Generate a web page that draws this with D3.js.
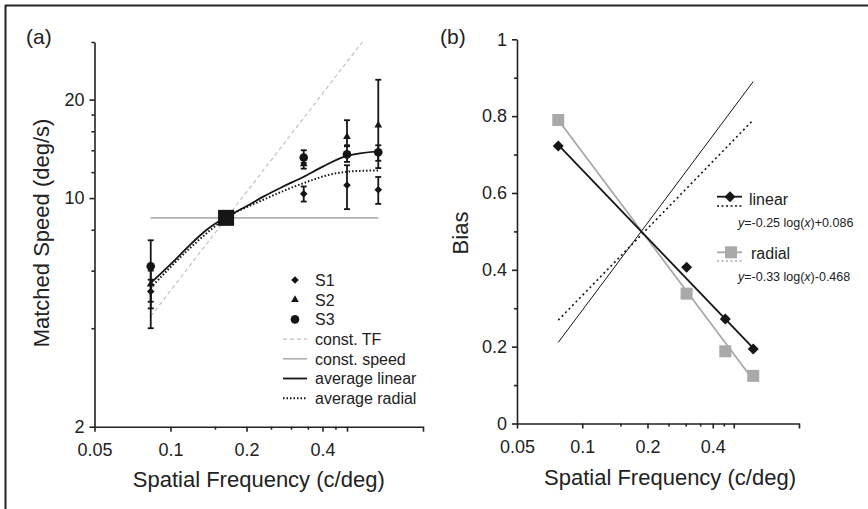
<!DOCTYPE html>
<html>
<head>
<meta charset="utf-8">
<script src="https://cdn.jsdelivr.net/npm/d3@7"></script>
<style>
  body { margin: 0; background: #fff; }
  text { font-family: "Liberation Sans", Arial, sans-serif; }
</style>
</head>
<body>
<div id="viz"></div>
<script>
let w = 868;
let h = 509;

// ---- panel (a) data: matched speed vs spatial frequency ----
let sfA = [0.0835, 0.337, 0.5, 0.665];
let s1Speed = [5.18, 10.3, 10.95, 10.6];
let s1Lo = [4.82, 9.76, 9.25, 9.6];
let s1Hi = [5.63, 10.85, 12.6, 11.6];
let s2Speed = [5.45, 12.7, 15.4, 16.7];
let s2Lo = [4.0, 12.3, 14.5, 12.35];
let s2Hi = [6.0, 13.1, 17.3, 23.0];
let s3Speed = [6.19, 13.3, 13.6, 13.8];
let s3Lo = [4.6, 12.8, 12.9, 13.0];
let s3Hi = [7.43, 14.0, 14.4, 14.5];
let refSF = 0.166;
let refSpeed = 8.7;
let constSpeedSF = [0.0835, 0.665];
let constSpeedVal = [8.7, 8.7];
let constTfSF = [0.0835, 0.575];
let constTfVal = [4.35, 30];
let avgLinSF = [0.0835, 0.1026, 0.1194, 0.1391, 0.1659, 0.1942, 0.2331, 0.2796, 0.3356, 0.4027, 0.4987, 0.665];
let avgLinVal = [5.5, 6.39, 7.19, 8.0, 8.75, 9.32, 10.1, 10.85, 11.6, 12.5, 13.45, 13.9];
let avgRadSF = [0.0835, 0.1194, 0.1659, 0.2331, 0.3356, 0.429, 0.514, 0.665];
let avgRadVal = [5.32, 7.03, 8.68, 9.88, 11.1, 11.8, 12.06, 12.15];

let xTicksMajor = [0.05, 0.1, 0.2, 0.4, 0.5, 1];
let xTicksLabeled = [0.05, 0.1, 0.2, 0.4];
let xTicksMinor = [0.15, 0.25, 0.3, 0.35, 0.45];
let yTicksA = [2, 10, 20];
let yTicksAMinor = [4, 6, 8, 12, 14, 16, 18, 30];
let legendA = ["S1", "S2", "S3", "const. TF", "const. speed", "average linear", "average radial"];

// ---- panel (b) data: bias vs spatial frequency ----
let sfB = [0.0775, 0.303, 0.457, 0.615];
let biasLinear = [0.722, 0.407, 0.272, 0.194];
let biasRadial = [0.79, 0.338, 0.188, 0.124];
let fitSF = [0.0775, 0.615];
let fitLinear = [0.725, 0.196];
let fitRadial = [0.79, 0.113];
let mirrorLinear = [0.269, 0.79];
let mirrorRadial = [0.211, 0.89];
let yTicksB = [0, 0.2, 0.4, 0.6, 0.8, 1];
let yTicksBMinor = [0.1, 0.3, 0.5, 0.7, 0.9];

let black = "#151515";
let gray = "#a9a9a9";

let svg = d3.select("#viz").append("svg")
  .attr("width", w)
  .attr("height", h);

// frame
svg.append("line").attr("x1", 5).attr("x2", w).attr("y1", 5.5).attr("y2", 5.5)
  .attr("stroke", "#222").attr("stroke-width", 2);
svg.append("line").attr("x1", 5.5).attr("x2", 5.5).attr("y1", 5).attr("y2", h)
  .attr("stroke", "#222").attr("stroke-width", 2);

function styleAxis(g){
  g.selectAll("path, line").attr("stroke", "#222").attr("stroke-width", 1.6);
  g.selectAll("text").attr("fill", "#222").style("font-size", "18px")
    .style("font-family", "'Liberation Sans', Arial, sans-serif");
}

function labelFmt(d){
  return xTicksLabeled.includes(d) ? String(d) : "";
}

// ================= panel (a) =================
let xA = d3.scaleLog().domain([0.05, 1]).range([94.5, 423]);
let yA = d3.scaleLog().domain([2, 30]).range([426.7, 42]);

let xAxisA = svg.append("g").attr("transform", "translate(0," + yA(2) + ")")
  .call(d3.axisBottom(xA).tickValues(xTicksMajor).tickFormat(labelFmt).tickSize(5).tickSizeOuter(0).tickPadding(12));
styleAxis(xAxisA);
let xAxisAMinor = svg.append("g").attr("transform", "translate(0," + yA(2) + ")")
  .call(d3.axisBottom(xA).tickValues(xTicksMinor).tickFormat("").tickSize(3).tickSizeOuter(0));
xAxisAMinor.select(".domain").remove();
styleAxis(xAxisAMinor);

let yAxisA = svg.append("g").attr("transform", "translate(" + xA(0.05) + ",0)")
  .call(d3.axisLeft(yA).tickValues(yTicksA).tickFormat(d3.format("d")).tickSize(5).tickSizeOuter(0).tickPadding(5));
styleAxis(yAxisA);
let yAxisAMinor = svg.append("g").attr("transform", "translate(" + xA(0.05) + ",0)")
  .call(d3.axisLeft(yA).tickValues(yTicksAMinor).tickFormat("").tickSize(3).tickSizeOuter(0));
yAxisAMinor.select(".domain").remove();
styleAxis(yAxisAMinor);

svg.append("text").attr("x", 26).attr("y", 44).style("font-size", "21px").attr("fill", "#222").text("(a)");
svg.append("text").attr("x", (xA(0.05) + xA(1)) / 2).attr("y", 487)
  .attr("text-anchor", "middle").style("font-size", "22px").attr("fill", "#222")
  .text("Spatial Frequency (c/deg)");
svg.append("text").attr("transform", "rotate(-90)").attr("x", -233).attr("y", 49)
  .attr("text-anchor", "middle").style("font-size", "22px").attr("fill", "#222")
  .text("Matched Speed (deg/s)");

let lineA = d3.line().x(d => xA(d[0])).y(d => yA(d[1]));
let curveA = d3.line().x(d => xA(d[0])).y(d => yA(d[1])).curve(d3.curveMonotoneX);

svg.append("path").attr("d", lineA(d3.zip(constTfSF, constTfVal)))
  .attr("fill", "none").attr("stroke", "#bdbdbd").attr("stroke-width", 1.1).attr("stroke-dasharray", "4,3");
svg.append("path").attr("d", lineA(d3.zip(constSpeedSF, constSpeedVal)))
  .attr("fill", "none").attr("stroke", "#b0b0b0").attr("stroke-width", 1.6);
svg.append("path").attr("d", curveA(d3.zip(avgRadSF, avgRadVal)))
  .attr("fill", "none").attr("stroke", black).attr("stroke-width", 2).attr("stroke-dasharray", "1.5,2");
svg.append("path").attr("d", curveA(d3.zip(avgLinSF, avgLinVal)))
  .attr("fill", "none").attr("stroke", black).attr("stroke-width", 1.8);

// error bars
let subjects = [
  {val: s1Speed, lo: s1Lo, hi: s1Hi, shape: "diamond"},
  {val: s2Speed, lo: s2Lo, hi: s2Hi, shape: "triangle"},
  {val: s3Speed, lo: s3Lo, hi: s3Hi, shape: "circle"}
];
let errGroup = svg.append("g").attr("stroke", black).attr("stroke-width", 1.8);
subjects.forEach(s => {
  sfA.forEach((sf, i) => {
    let cx = xA(sf);
    errGroup.append("line").attr("x1", cx).attr("x2", cx).attr("y1", yA(s.lo[i])).attr("y2", yA(s.hi[i]));
    errGroup.append("line").attr("x1", cx - 3).attr("x2", cx + 3).attr("y1", yA(s.lo[i])).attr("y2", yA(s.lo[i]));
    errGroup.append("line").attr("x1", cx - 3).attr("x2", cx + 3).attr("y1", yA(s.hi[i])).attr("y2", yA(s.hi[i]));
  });
});

function diamondPath(r){
  return "M0," + (-r) + "L" + r + ",0L0," + r + "L" + (-r) + ",0Z";
}
function markerPath(shape){
  if (shape == "diamond") return diamondPath(3.8);
  if (shape == "triangle") return d3.symbol(d3.symbolTriangle, 26)();
  return d3.symbol(d3.symbolCircle, 58)();
}

subjects.forEach(s => {
  svg.append("g").selectAll("path").data(sfA).enter()
    .append("path")
      .attr("d", markerPath(s.shape))
      .attr("transform", (d, i) => "translate(" + xA(d) + "," + yA(s.val[i]) + ")")
      .attr("fill", black);
});

svg.append("rect")
  .attr("x", xA(refSF) - 8).attr("y", yA(refSpeed) - 8)
  .attr("width", 16).attr("height", 16).attr("fill", black);

// legend (a)
let legA = svg.append("g").attr("transform", "translate(283,280)");
legendA.forEach((label, i) => {
  let ly = i * 19.7;
  let row = legA.append("g").attr("transform", "translate(0," + ly + ")");
  if (i < 3) {
    row.append("path").attr("d", markerPath(subjects[i].shape))
      .attr("transform", "translate(12,0)").attr("fill", black);
  } else if (i == 3) {
    row.append("line").attr("x1", 0).attr("x2", 24).attr("stroke", "#bdbdbd").attr("stroke-width", 1.1).attr("stroke-dasharray", "4,3");
  } else if (i == 4) {
    row.append("line").attr("x1", 0).attr("x2", 24).attr("stroke", "#b0b0b0").attr("stroke-width", 1.6);
  } else if (i == 5) {
    row.append("line").attr("x1", 0).attr("x2", 24).attr("stroke", black).attr("stroke-width", 1.8);
  } else {
    row.append("line").attr("x1", 0).attr("x2", 24).attr("stroke", black).attr("stroke-width", 2).attr("stroke-dasharray", "1.5,2");
  }
  row.append("text").attr("x", 32).attr("y", 5.8).style("font-size", "16px").attr("fill", "#222").text(label);
});

// ================= panel (b) =================
let xB = d3.scaleLog().domain([0.05, 1]).range([517, 799]);
let yB = d3.scaleLinear().domain([0, 1]).range([423.5, 39.3]);

let xAxisB = svg.append("g").attr("transform", "translate(0," + yB(0) + ")")
  .call(d3.axisBottom(xB).tickValues(xTicksMajor).tickFormat(labelFmt).tickSize(5).tickSizeOuter(0).tickPadding(12));
styleAxis(xAxisB);
let xAxisBMinor = svg.append("g").attr("transform", "translate(0," + yB(0) + ")")
  .call(d3.axisBottom(xB).tickValues(xTicksMinor).tickFormat("").tickSize(3).tickSizeOuter(0));
xAxisBMinor.select(".domain").remove();
styleAxis(xAxisBMinor);

let yAxisB = svg.append("g").attr("transform", "translate(" + xB(0.05) + ",0)")
  .call(d3.axisLeft(yB).tickValues(yTicksB).tickFormat(d => d3.format("")(d)).tickSize(5).tickSizeOuter(0).tickPadding(5));
styleAxis(yAxisB);
let yAxisBMinor = svg.append("g").attr("transform", "translate(" + xB(0.05) + ",0)")
  .call(d3.axisLeft(yB).tickValues(yTicksBMinor).tickFormat("").tickSize(3).tickSizeOuter(0));
yAxisBMinor.select(".domain").remove();
styleAxis(yAxisBMinor);

svg.append("text").attr("x", 440).attr("y", 44).style("font-size", "21px").attr("fill", "#222").text("(b)");
svg.append("text").attr("x", 670).attr("y", 485)
  .attr("text-anchor", "middle").style("font-size", "22px").attr("fill", "#222")
  .text("Spatial Frequency (c/deg)");
svg.append("text").attr("transform", "rotate(-90)").attr("x", -233).attr("y", 467.5)
  .attr("text-anchor", "middle").style("font-size", "22px").attr("fill", "#222")
  .text("Bias");

let lineB = d3.line().x(d => xB(d[0])).y(d => yB(d[1]));

svg.append("path").attr("d", lineB(d3.zip(fitSF, mirrorRadial)))
  .attr("fill", "none").attr("stroke", black).attr("stroke-width", 1);
svg.append("path").attr("d", lineB(d3.zip(fitSF, mirrorLinear)))
  .attr("fill", "none").attr("stroke", black).attr("stroke-width", 1.6).attr("stroke-dasharray", "2,3");
svg.append("path").attr("d", lineB(d3.zip(fitSF, fitRadial)))
  .attr("fill", "none").attr("stroke", gray).attr("stroke-width", 1.8);
svg.append("path").attr("d", lineB(d3.zip(fitSF, fitLinear)))
  .attr("fill", "none").attr("stroke", black).attr("stroke-width", 1.8);

svg.append("g").selectAll("rect").data(sfB).enter()
  .append("rect")
    .attr("x", d => xB(d) - 6).attr("y", (d, i) => yB(biasRadial[i]) - 6)
    .attr("width", 12).attr("height", 12).attr("fill", gray);
svg.append("g").selectAll("path").data(sfB).enter()
  .append("path")
    .attr("d", diamondPath(5.5))
    .attr("transform", (d, i) => "translate(" + xB(d) + "," + yB(biasLinear[i]) + ")")
    .attr("fill", black);

// legend (b)
let legB = svg.append("g").attr("transform", "translate(717,0)");
legB.append("line").attr("x1", 0).attr("x2", 25).attr("y1", 196.7).attr("y2", 196.7)
  .attr("stroke", black).attr("stroke-width", 1.8);
legB.append("path").attr("d", diamondPath(5.5)).attr("transform", "translate(13,196.7)").attr("fill", black);
legB.append("line").attr("x1", 0).attr("x2", 25).attr("y1", 206).attr("y2", 206)
  .attr("stroke", black).attr("stroke-width", 1.4).attr("stroke-dasharray", "2,2.5");
legB.append("text").attr("x", 32).attr("y", 205).style("font-size", "16px").attr("fill", "#222").text("linear");
let eq1 = legB.append("text").attr("x", 21).attr("y", 227).style("font-size", "12.5px").attr("fill", "#222");
eq1.append("tspan").style("font-style", "italic").text("y");
eq1.append("tspan").text("=-0.25 log(");
eq1.append("tspan").style("font-style", "italic").text("x");
eq1.append("tspan").text(")+0.086");

legB.append("line").attr("x1", 0).attr("x2", 25).attr("y1", 252.3).attr("y2", 252.3)
  .attr("stroke", gray).attr("stroke-width", 1.8);
legB.append("rect").attr("x", 8).attr("y", 246.3).attr("width", 12).attr("height", 12).attr("fill", gray);
legB.append("line").attr("x1", 0).attr("x2", 25).attr("y1", 261).attr("y2", 261)
  .attr("stroke", gray).attr("stroke-width", 1.4).attr("stroke-dasharray", "2,2.5");
legB.append("text").attr("x", 34).attr("y", 259).style("font-size", "16px").attr("fill", "#222").text("radial");
let eq2 = legB.append("text").attr("x", 21).attr("y", 281).style("font-size", "12.5px").attr("fill", "#222");
eq2.append("tspan").style("font-style", "italic").text("y");
eq2.append("tspan").text("=-0.33 log(");
eq2.append("tspan").style("font-style", "italic").text("x");
eq2.append("tspan").text(")-0.468");
</script>
</body>
</html>
